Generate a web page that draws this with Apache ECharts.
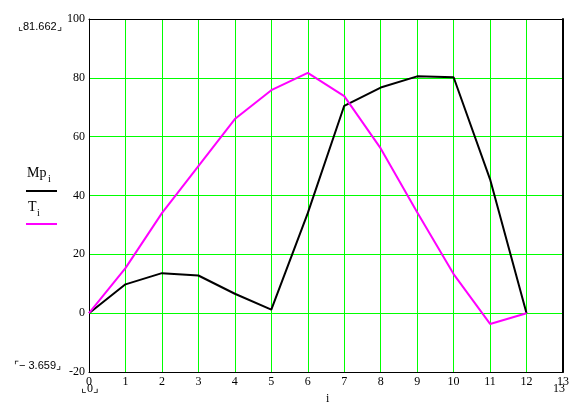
<!DOCTYPE html>
<html><head><meta charset="utf-8">
<script src="https://cdn.jsdelivr.net/npm/echarts@6/dist/echarts.min.js"></script>
<style>html,body{margin:0;padding:0;background:#fff}#c{width:588px;height:410px}</style>
</head><body><div id="c"></div>
<script>
var idx = [0,1,2,3,4,5,6,7,8,9,10,11,12];
var mpValues = [0, 9.8, 13.6, 12.8, 6.6, 1.2, 34, 70.5, 76.7, 80.5, 80.2, 45.5, 0];
var tValues = [0, 15.3, 34, 50, 66, 75.8, 81.662, 73.8, 56, 34.3, 13.3, -3.659, 0];
var xTicks = {min:0, max:13, step:1};
var yTicks = {min:-20, max:100, step:20};

function pairs(v){ return idx.map(function(i){ return [i, v[i]]; }); }
var serif = 'Liberation Serif';
var chart = echarts.init(document.getElementById('c'), null, {renderer:'canvas'});
chart.setOption({
  animation:false,
  backgroundColor:'#fff',
  grid:{left:89, right:25, top:19, bottom:38},
  xAxis:[{
    type:'value', min:xTicks.min, max:xTicks.max, interval:xTicks.step,
    axisLine:{show:true, onZero:false, lineStyle:{color:'#000', width:1}},
    axisTick:{show:false},
    axisLabel:{color:'#000', fontFamily:serif, fontSize:12, margin:4},
    splitLine:{show:true, showMinLine:false, showMaxLine:false, lineStyle:{color:'#00ff00', width:1}}
  },{
    type:'value', position:'top', min:xTicks.min, max:xTicks.max, interval:xTicks.step,
    axisLine:{show:true, onZero:false, lineStyle:{color:'#000', width:1}},
    axisTick:{show:false}, axisLabel:{show:false}, splitLine:{show:false}
  }],
  yAxis:[{
    type:'value', min:yTicks.min, max:yTicks.max, interval:yTicks.step,
    axisLine:{show:true, onZero:false, lineStyle:{color:'#000', width:1}},
    axisTick:{show:false},
    axisLabel:{color:'#000', fontFamily:serif, fontSize:12, margin:4},
    splitLine:{show:true, showMinLine:false, showMaxLine:false, lineStyle:{color:'#00ff00', width:1}}
  },{
    type:'value', position:'right', min:yTicks.min, max:yTicks.max, interval:yTicks.step,
    axisLine:{show:true, onZero:false, lineStyle:{color:'#000', width:2}},
    axisTick:{show:false}, axisLabel:{show:false}, splitLine:{show:false}
  }],
  series:[
    {type:'line', data:pairs(mpValues), showSymbol:false, symbol:'none', lineStyle:{color:'#000', width:2}, z:3},
    {type:'line', data:pairs(tValues), showSymbol:false, symbol:'none', lineStyle:{color:'#ff00ff', width:2}, z:4}
  ],
  graphic:[
    {type:'text', left:18, top:21, style:{text:'⌞81.662⌟', font:'11px "Liberation Sans"', fill:'#000'}},
    {type:'text', left:14, top:360, style:{text:'⌜− 3.659⌟', font:'11px "Liberation Sans"', fill:'#000'}},
    {type:'text', left:81, top:383, style:{text:'⌞0⌟', font:'12px "Liberation Serif"', fill:'#000'}},
    {type:'text', left:553, top:383, style:{text:'13', font:'12px "Liberation Serif"', fill:'#000'}},
    {type:'text', left:326, top:393, style:{text:'i', font:'12px "Liberation Serif"', fill:'#000'}},
    {type:'text', left:27, top:166, style:{text:'Mp', font:'14px "Liberation Serif"', fill:'#000'}},
    {type:'text', left:48, top:174, style:{text:'i', font:'10px "Liberation Serif"', fill:'#000'}},
    {type:'line', shape:{x1:26, y1:191, x2:57, y2:191}, style:{stroke:'#000', lineWidth:2}},
    {type:'text', left:28, top:200, style:{text:'T', font:'14px "Liberation Serif"', fill:'#000'}},
    {type:'text', left:37, top:208, style:{text:'i', font:'10px "Liberation Serif"', fill:'#000'}},
    {type:'line', shape:{x1:26, y1:224, x2:57, y2:224}, style:{stroke:'#ff00ff', lineWidth:2}}
  ]
});
</script></body></html>
